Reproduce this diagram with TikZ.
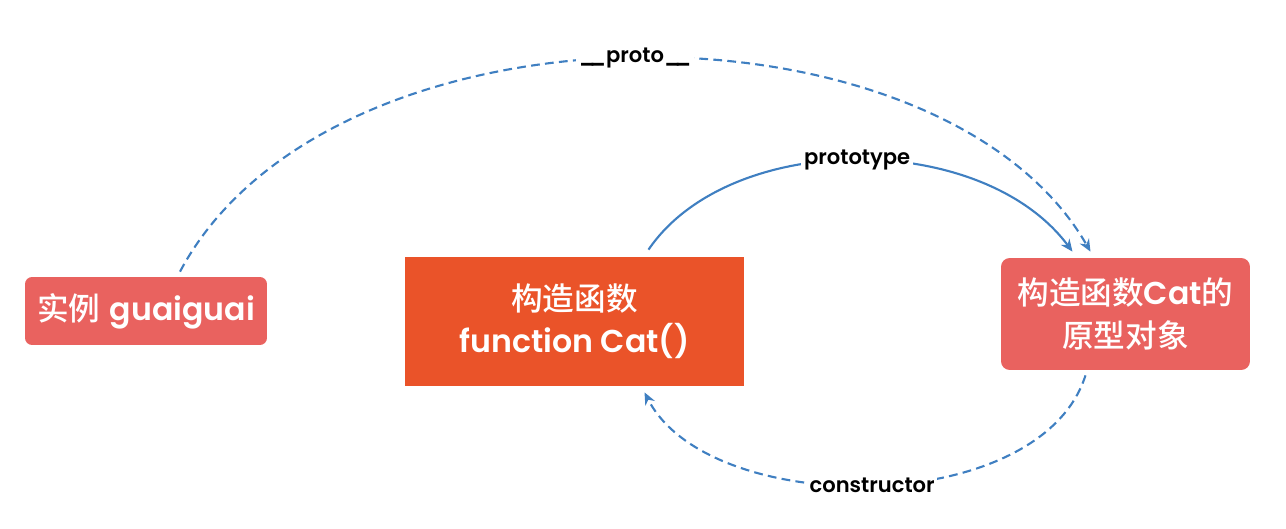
\documentclass[tikz,border=0pt]{standalone}
\usepackage{fontspec}
\newfontfamily\cjkf{Noto Sans CJK SC Medium}
\newfontfamily\latf{Poppins SemiBold}
\usepackage{tikz}
\usetikzlibrary{arrows.meta,positioning,calc}
\definecolor{boxred}{HTML}{E9625F}
\definecolor{boxorange}{HTML}{EA5329}
\definecolor{linkblue}{HTML}{3F7FC1}

\begin{document}
\begin{tikzpicture}[x=0.02cm, y=0.02cm,
  box/.style={text=white, align=center, inner sep=0pt, font=\fontsize{18}{24}\selectfont},
  link/.style={linkblue, line width=1.2pt, -{Stealth[length=7pt,width=6pt]}},
  dashlink/.style={link, dash pattern=on 5pt off 3pt},
  lbl/.style={font=\latf\fontsize{12}{14}\selectfont, fill=white, inner sep=1.5pt, text=black}]

  \useasboundingbox (0,0) rectangle (1286,528);

  % Knoten
  \node[box, fill=boxred, rounded corners=4pt, minimum width=4.84cm, minimum height=1.36cm]
    (inst) at (146,217) {{\cjkf 实例} {\latf guaiguai}};
  \node[box, fill=boxorange, minimum width=6.78cm, minimum height=2.58cm]
    (ctor) at (574.5,206.5) {{\cjkf 构造函数}\\{\latf function Cat()}};
  \node[box, fill=boxred, rounded corners=5pt, minimum width=4.98cm, minimum height=2.24cm]
    (protoobj) at (1125.5,214) {{\cjkf 构造函数}{\latf Cat}{\cjkf 的}\\{\cjkf 原型对象}};

  % Verbindungen
  \draw[dashlink] ($(inst.north)+(34,5)$) .. controls (330,538) and (940,538) .. ($(protoobj.north)+(-35,6)$)
    node[lbl, pos=0.5] {\_\kern-3.5pt\_proto\_\kern-3.5pt\_};
  \draw[link] ($(ctor.north)+(74,7)$) .. controls (730,398) and (982,398) .. ($(protoobj.north)+(-53,6)$)
    node[lbl, pos=0.5] {prototype};
  \draw[dashlink] ($(protoobj.south)+(-40,-5)$) .. controls (1040,9) and (709,9) .. ($(ctor.south)+(70,-6)$)
    node[lbl, pos=0.5] {constructor};
\end{tikzpicture}
\end{document}
